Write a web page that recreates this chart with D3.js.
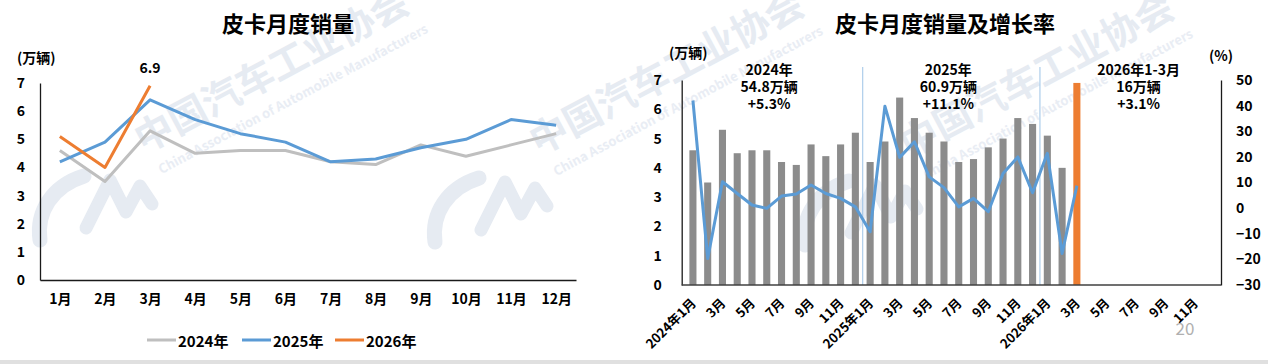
<!DOCTYPE html>
<html>
<head>
<meta charset="utf-8">
<script src="https://cdn.jsdelivr.net/npm/d3@7/dist/d3.min.js"></script>
<style>
  body { margin: 0; background: #fff; }
  text { font-family: "Noto Sans CJK SC", "Noto Sans", sans-serif; }
</style>
</head>
<body>
<svg id="chart" width="1268" height="364"></svg>
<script>
// ---- data ----
const months = ['1月', '2月', '3月', '4月', '5月', '6月', '7月', '8月', '9月', '10月', '11月', '12月'];
const years = ['2024', '2025', '2026'];
const sales2024 = [4.6, 3.5, 5.3, 4.5, 4.6, 4.6, 4.2, 4.1, 4.8, 4.4, 4.8, 5.2];
const sales2025 = [4.2, 4.9, 6.4, 5.7, 5.2, 4.9, 4.2, 4.3, 4.7, 5.0, 5.7, 5.5];
const sales2026 = [5.1, 4.0, 6.9];
const growth = [42, -19.7, 10.3, 5.7, 1.2, -0.1, 4.7, 5.5, 9.0, 5.7, 3.8, 0.5,
                -9.2, 39.8, 19.8, 25.9, 12.2, 8.0, 0.5, 3.8, -1.4, 13.5, 20.0, 6.0,
                21.4, -17.7, 8.8];
const yearNotes = [
  ['2024年', '54.8万辆', '+5.3%'],
  ['2025年', '60.9万辆', '+11.1%'],
  ['2026年1-3月', '16万辆', '+3.1%']
];
const legendNames = ['2024年', '2025年', '2026年'];

const colors = { y2024: '#bfbfbf', y2025: '#5b9bd5', y2026: '#ed7d31', bar: '#8c8c8c', wm: '#e6ebf2' };

const svg = d3.select('#chart');

// ---- watermark (behind everything) ----
const wm = svg.append('g').attr('class', 'watermark');
[[0, 0], [395, 2], [765, 5]].forEach(([dx, dy]) => {
  const t = wm.append('g').attr('transform', `translate(${136 + dx},${139 + dy}) rotate(-28)`);
  t.append('text').text('中国汽车工业协会')
    .attr('font-size', 38).attr('font-weight', 700)
    .attr('dominant-baseline', 'central').attr('fill', colors.wm);
  t.append('text').text('China Association of Automobile Manufacturers')
    .attr('x', 6).attr('y', 43).attr('font-size', 13).attr('font-weight', 600)
    .attr('fill', '#e9edf4');
  const logo = wm.append('g').attr('transform', `translate(${dx},${dy})`)
    .attr('fill', 'none').attr('stroke', colors.wm)
    .attr('stroke-linecap', 'round').attr('stroke-linejoin', 'round');
  logo.append('path').attr('d', 'M40,240 C36,212 52,186 84,176').attr('stroke-width', 15);
  logo.append('path').attr('d', 'M86,228 L110,180 L126,212 L140,186 L152,204').attr('stroke-width', 13);
});

// ---- left chart: monthly sales lines ----
const left = svg.append('g');
const x1 = d3.scalePoint().domain(months).range([40, 576]).padding(0.44);
const y1 = d3.scaleLinear().domain([0, 7]).range([280, 83]);

left.append('text').text('皮卡月度销量')
  .attr('x', 288).attr('y', 22).attr('text-anchor', 'middle')
  .attr('dominant-baseline', 'central')
  .attr('font-size', 22).attr('font-weight', 700);

left.append('text').text('(万辆)')
  .attr('x', 17).attr('y', 57).attr('dominant-baseline', 'central')
  .attr('font-size', 14).attr('font-weight', 700);

const yAx1 = left.append('g').attr('transform', 'translate(40,0)')
  .call(d3.axisLeft(y1).ticks(7).tickSize(0).tickSizeOuter(0).tickPadding(15));
const xAx1 = left.append('g').attr('transform', 'translate(0,280)')
  .call(d3.axisBottom(x1).tickSize(0).tickSizeOuter(0).tickPadding(14));
[yAx1, xAx1].forEach(a => {
  a.select('.domain').attr('stroke', '#1a1a1a').attr('stroke-width', 1.3);
  a.selectAll('text').attr('font-size', 14).attr('font-weight', 700).attr('fill', '#000')
    .style('font-family', '"Noto Sans CJK SC", sans-serif');
});

const line1 = d3.line().x((d, i) => x1(months[i])).y(d => y1(d));
[[sales2024, colors.y2024], [sales2025, colors.y2025], [sales2026, colors.y2026]].forEach(([vals, c]) => {
  left.append('path').datum(vals)
    .attr('d', line1).attr('fill', 'none')
    .attr('stroke', c).attr('stroke-width', 3).attr('stroke-linejoin', 'round');
});

const last26 = sales2026.length - 1;
left.append('text').text(sales2026[last26].toFixed(1))
  .attr('x', x1(months[last26])).attr('y', y1(sales2026[last26]) - 19)
  .attr('text-anchor', 'middle').attr('dominant-baseline', 'central')
  .attr('font-size', 14).attr('font-weight', 700);

// legend
const legX = [147, 242, 335];
const legC = [colors.y2024, colors.y2025, colors.y2026];
legendNames.forEach((n, i) => {
  left.append('line').attr('x1', legX[i]).attr('x2', legX[i] + 29)
    .attr('y1', 340).attr('y2', 340).attr('stroke', legC[i]).attr('stroke-width', 3);
  left.append('text').text(n).attr('x', legX[i] + 31).attr('y', 340)
    .attr('dominant-baseline', 'central').attr('font-size', 15).attr('font-weight', 700);
});

// ---- right chart: bars + growth line ----
const right = svg.append('g');
const periods = years.flatMap(y => months.map(m => y + '-' + m));
const sales = [...sales2024, ...sales2025, ...sales2026];
const xb = d3.scaleBand().domain(periods).range([681.7, 1221]).padding(0.52);
const yL = d3.scaleLinear().domain([0, 7]).range([285, 80]);
const yR = d3.scaleLinear().domain([-30, 50]).range([285, 80]);
const cx = i => xb(periods[i]) + xb.bandwidth() / 2;

right.append('text').text('皮卡月度销量及增长率')
  .attr('x', 945).attr('y', 22).attr('text-anchor', 'middle')
  .attr('dominant-baseline', 'central')
  .attr('font-size', 22).attr('font-weight', 700);

right.append('text').text('(万辆)')
  .attr('x', 669).attr('y', 52).attr('dominant-baseline', 'central')
  .attr('font-size', 14).attr('font-weight', 700);
right.append('text').text('(%)')
  .attr('x', 1209).attr('y', 55).attr('dominant-baseline', 'central')
  .attr('font-size', 14).attr('font-weight', 700);

// year separators
[12, 24].forEach(i => {
  const sx = xb(periods[i]) - xb.step() * xb.paddingInner() / 2;
  right.append('line').attr('x1', sx).attr('x2', sx)
    .attr('y1', 67).attr('y2', 285).attr('stroke', '#9dc3e6').attr('stroke-width', 1);
});

right.selectAll('.bar').data(sales).enter().append('rect')
  .attr('class', 'bar')
  .attr('x', (d, i) => xb(periods[i]))
  .attr('width', xb.bandwidth())
  .attr('y', d => yL(d))
  .attr('height', d => yL(0) - yL(d))
  .attr('fill', (d, i) => i === sales.length - 1 ? colors.y2026 : colors.bar);

right.append('path').datum(growth)
  .attr('d', d3.line().x((d, i) => cx(i)).y(d => yR(d)))
  .attr('fill', 'none').attr('stroke', colors.y2025).attr('stroke-width', 3)
  .attr('stroke-linejoin', 'round');

const yAxL = right.append('g').attr('transform', 'translate(681.7,0)')
  .call(d3.axisLeft(yL).ticks(7).tickSize(0).tickSizeOuter(0).tickPadding(20));
const yAxR = right.append('g').attr('transform', 'translate(1221,0)')
  .call(d3.axisRight(yR).ticks(8).tickSize(0).tickSizeOuter(0).tickPadding(15));
[yAxL, yAxR].forEach(a => {
  a.select('.domain').attr('stroke', '#1a1a1a').attr('stroke-width', 1.3);
  a.selectAll('text').attr('font-size', 14).attr('font-weight', 700).attr('fill', '#000')
    .style('font-family', '"Noto Sans CJK SC", sans-serif');
});
right.append('line').attr('x1', 681.7).attr('x2', 1221).attr('y1', 285).attr('y2', 285)
  .attr('stroke', '#404040').attr('stroke-width', 1.3);

// rotated period labels, every second month
periods.forEach((p, i) => {
  if (i % 2) return;
  const [yr, m] = p.split('-');
  const label = m === '1月' ? yr + '年' + m : m;
  right.append('text').text(label)
    .attr('transform', `translate(${cx(i) + 4},304) rotate(-45)`)
    .attr('text-anchor', 'end')
    .attr('font-size', 13).attr('font-weight', 700);
});

// year summary notes
const noteShift = [-5, -3, 10];
yearNotes.forEach((lines, k) => {
  const mid = xb(periods[k * 12]) - xb.step() * xb.paddingInner() / 2 + 6 * xb.step() + noteShift[k];
  lines.forEach((s, j) => {
    right.append('text').text(s)
      .attr('x', mid).attr('y', 69 + j * 17)
      .attr('text-anchor', 'middle').attr('dominant-baseline', 'central')
      .attr('font-size', 14).attr('font-weight', 700);
  });
});

// page number + bottom strip
svg.append('text').text('20').attr('x', 1185).attr('y', 327)
  .attr('text-anchor', 'middle').attr('dominant-baseline', 'central')
  .attr('font-size', 17).attr('fill', '#b0b0b0');
svg.append('rect').attr('x', 0).attr('y', 360).attr('width', 1268).attr('height', 4).attr('fill', '#e0e0e0');
</script>
</body>
</html>
